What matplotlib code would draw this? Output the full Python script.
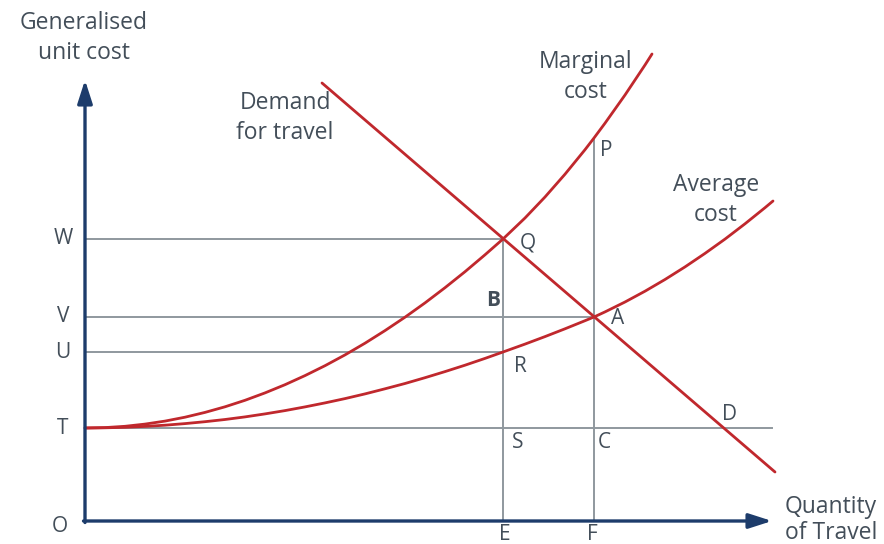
import matplotlib
matplotlib.use("Agg")
import matplotlib.pyplot as plt

# Price levels on the cost axis and quantities on the travel axis
cost_levels = {"T": 93, "U": 169, "V": 204, "W": 282}
quantity_levels = {"E": 418, "F": 509}
P_level = 383

# Demand for travel (straight line, two end points)
demand_x = [237, 690]
demand_y = [438, 49]

# Marginal cost curve, sampled along quantity
mc_x = [0, 20, 40, 60, 80, 100, 120, 140, 160, 180, 200, 220, 240, 260, 280, 300,
        320, 340, 360, 380, 400, 418, 440, 460, 480, 500, 509, 520, 540, 560, 567]
mc_y = [93, 93.4, 94.7, 96.9, 99.9, 103.8, 108.6, 114.2, 120.7, 128.1, 136.3, 145.4,
        155.3, 166.1, 177.8, 190.4, 203.8, 218.1, 233.3, 249.3, 266.2, 282, 303, 324,
        346.8, 371.3, 383, 397.8, 426, 456, 467]

# Average cost curve, sampled along quantity
ac_x = [0, 20, 40, 60, 80, 100, 120, 140, 160, 180, 200, 220, 240, 260, 280, 300,
        320, 340, 360, 380, 400, 418, 440, 460, 480, 500, 509, 520, 540, 560, 580,
        600, 620, 640, 660, 680, 688]
ac_y = [93, 93.2, 93.7, 94.6, 95.8, 97.4, 99.3, 101.5, 104.1, 107.1, 110.4, 114.1,
        118.1, 122.4, 127.1, 132.2, 137.5, 143.3, 149.4, 155.8, 162.6, 169, 176.9,
        184.4, 192.2, 200.3, 204, 209.1, 219, 229.8, 241.5, 254.1, 267.6, 281.9,
        297.2, 313.3, 320]

RED = "#c0282d"
GREY = "#8f989e"
NAVY = "#1d3c6b"
TXT = "#434e59"

plt.rcParams["font.family"] = ["Open Sans", "DejaVu Sans"]

fig = plt.figure(figsize=(8.84, 5.44), dpi=100)
ax = fig.add_axes([0, 0, 1, 1])
ax.set_xlim(-85, 799)
ax.set_ylim(-23, 521)
ax.axis("off")

T, U, V, W = cost_levels["T"], cost_levels["U"], cost_levels["V"], cost_levels["W"]
E, F = quantity_levels["E"], quantity_levels["F"]

# Grey guide lines
glw = 1.4
ax.plot([0, E], [W, W], color=GREY, lw=glw, zorder=1)
ax.plot([0, F], [V, V], color=GREY, lw=glw, zorder=1)
ax.plot([0, E], [U, U], color=GREY, lw=glw, zorder=1)
ax.plot([0, 687], [T, T], color=GREY, lw=glw, zorder=1)
ax.plot([E, E], [0, W], color=GREY, lw=glw, zorder=1)
ax.plot([F, F], [0, P_level], color=GREY, lw=glw, zorder=1)

# Curves
rlw = 2.0
for xs, ys in [(demand_x, demand_y), (mc_x, mc_y), (ac_x, ac_y)]:
    ax.plot(xs, ys, color=RED, lw=rlw, zorder=3,
            solid_capstyle="round", solid_joinstyle="round")

# Axes with arrow heads
ax.annotate("", xy=(0, 441), xytext=(0, -1.5),
            arrowprops=dict(arrowstyle="-|>,head_length=1.4,head_width=0.45",
                            color=NAVY, lw=2.4, shrinkA=0, shrinkB=0), zorder=4)
ax.annotate("", xy=(687, 0), xytext=(-1.5, 0),
            arrowprops=dict(arrowstyle="-|>,head_length=1.4,head_width=0.45",
                            color=NAVY, lw=2.4, shrinkA=0, shrinkB=0), zorder=4)

def label(x, y, s, fs=15, **kw):
    kw.setdefault("ha", "center")
    kw.setdefault("va", "center")
    ax.text(x, y, s, color=TXT, fontsize=fs, **kw)

cfs = 16.5
label(-1, 483, "Generalised\nunit cost", fs=cfs, linespacing=1.3)
label(200, 403, "Demand\nfor travel", fs=cfs, linespacing=1.3)
label(501, 444, "Marginal\ncost", fs=cfs, linespacing=1.3)
label(631, 321, "Average\ncost", fs=cfs, linespacing=1.3)
label(700, 1, "Quantity\nof Travel", fs=cfs, ha="left", linespacing=1.1)

# Axis level letters
for name, lvl in [("W", W), ("V", V), ("U", U), ("T", T)]:
    label(-22, lvl, name)
label(-25, -6, "O")
label(E + 2, -13, "E")
label(F - 2, -13, "F")

# Point letters
label(F + 12, 371, "P")
label(E + 25, 278, "Q")
label(E - 10, 221, "B", fontweight="bold")
label(F + 24, 203, "A")
label(E + 17, 155, "R")
label(E + 15, 78, "S")
label(F + 10, 78, "C")
label(645, 107, "D")

fig.savefig("out.png", dpi=100)
